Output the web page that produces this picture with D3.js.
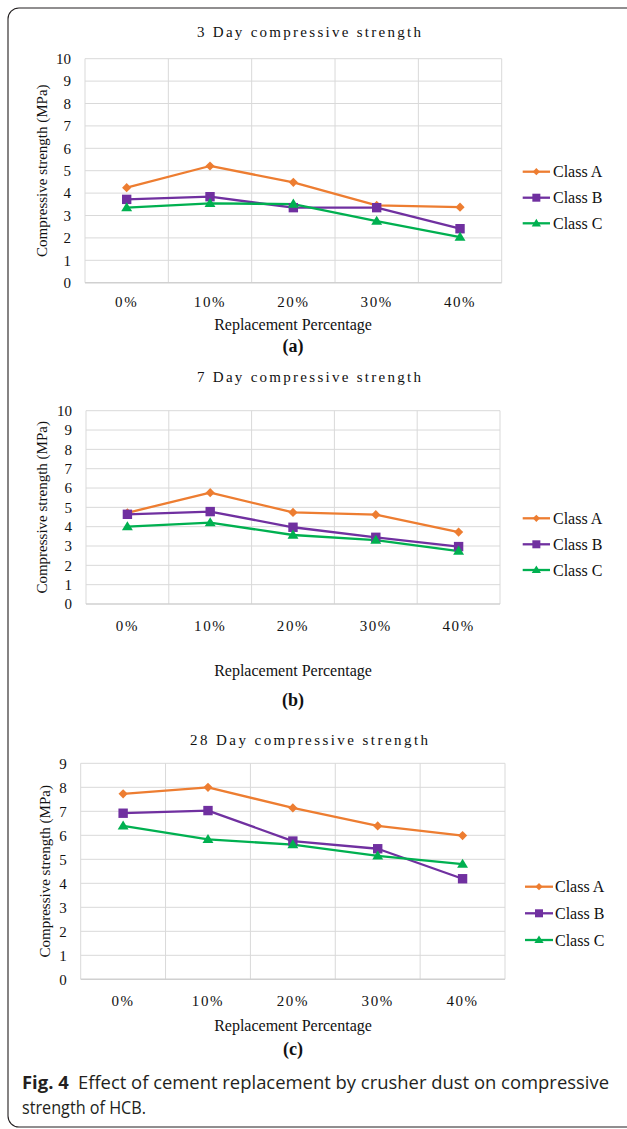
<!DOCTYPE html>
<html>
<head>
<meta charset="utf-8">
<script src="https://cdn.jsdelivr.net/npm/d3@7"></script>
<style>
  html, body { margin: 0; padding: 0; background: #fff; }
  svg { display: block; }
</style>
</head>
<body>
<svg id="chart" width="627" height="1129"></svg>
<script>
// ---------------- DATA ----------------
const categories = ["0%", "10%", "20%", "30%", "40%"];
const seriesNames = ["Class A", "Class B", "Class C"];

const day3ClassA = [4.24, 5.21, 4.48, 3.45, 3.37];
const day3ClassB = [3.72, 3.84, 3.35, 3.35, 2.41];
const day3ClassC = [3.35, 3.54, 3.51, 2.75, 2.03];

const day7ClassA = [4.72, 5.76, 4.74, 4.62, 3.72];
const day7ClassB = [4.64, 4.78, 3.97, 3.45, 2.97];
const day7ClassC = [4.00, 4.21, 3.57, 3.30, 2.74];

const day28ClassA = [7.73, 8.00, 7.14, 6.39, 5.99];
const day28ClassB = [6.92, 7.03, 5.76, 5.44, 4.19];
const day28ClassC = [6.39, 5.83, 5.61, 5.14, 4.80];

const ticks3 = [0, 1, 2, 3, 4, 5, 6, 7, 8, 9, 10];
const ticks7 = [0, 1, 2, 3, 4, 5, 6, 7, 8, 9, 10];
const ticks28 = [0, 1, 2, 3, 4, 5, 6, 7, 8, 9];

const panelTitles = ["3 Day compressive strength", "7 Day compressive strength", "28 Day compressive strength"];
const panelLetters = ["(a)", "(b)", "(c)"];
const xAxisTitle = "Replacement Percentage";
const yAxisTitle = "Compressive strength (MPa)";

// ---------------- STYLE / LAYOUT ----------------
const colors = ["#ED7D31", "#7030A0", "#00B050"];
const markers = ["diamond", "square", "triangle"];
const serif = "'Liberation Serif', 'Times New Roman', serif";

const layouts = [
  { x0: 85, x1: 501.7, y0: 58.7, y1: 282.7, titleY: 37, titleW: 224, tickY: 307, axisTitleY: 330, letterY: 352,
    legendLine: [522.7, 550], legendTextX: 553, legendY: [171.7, 197.7, 223.3], yLabelX: 42 },
  { x0: 86, x1: 500, y0: 410.7, y1: 604, titleY: 382, titleW: 224, tickY: 631, axisTitleY: 676, letterY: 706,
    legendLine: [522.7, 550], legendTextX: 553, legendY: [518.3, 544.3, 570], yLabelX: 42 },
  { x0: 80.7, x1: 505, y0: 763.3, y1: 979.3, titleY: 745, titleW: 238, tickY: 1006, axisTitleY: 1031, letterY: 1055,
    legendLine: [525, 553], legendTextX: 555, legendY: [886.7, 913.3, 940], yLabelX: 45 }
];

const panelsData = [
  { series: [day3ClassA, day3ClassB, day3ClassC], ticks: ticks3 },
  { series: [day7ClassA, day7ClassB, day7ClassC], ticks: ticks7 },
  { series: [day28ClassA, day28ClassB, day28ClassC], ticks: ticks28 }
];

const svg = d3.select("#chart");

// outer rounded frame
svg.append("rect")
  .attr("x", 8).attr("y", 8)
  .attr("width", 660).attr("height", 1119)
  .attr("rx", 11).attr("ry", 11)
  .attr("fill", "none").attr("stroke", "#231f20").attr("stroke-width", 1.1);

function markerPath(type, s) {
  if (type === "diamond") {
    return `M0,${-s}L${s},0L0,${s}L${-s},0Z`;
  } else if (type === "square") {
    return `M${-s},${-s}H${s}V${s}H${-s}Z`;
  } else {
    const h = s * 1.75;
    return `M0,${-h * 0.6}L${s * 1.05},${h * 0.4}L${-s * 1.05},${h * 0.4}Z`;
  }
}
const markerSize = { diamond: 4.6, square: 4.7, triangle: 5.2 };
const legendMarkerSize = { diamond: 3.6, square: 4.0, triangle: 4.4 };

panelsData.forEach((pd, i) => {
  const L = layouts[i];
  const g = svg.append("g");
  const yMax = d3.max(pd.ticks);

  const x = d3.scaleBand().domain(categories).range([L.x0, L.x1]).padding(0);
  const y = d3.scaleLinear().domain([0, yMax]).range([L.y1, L.y0]);

  // horizontal grid
  g.append("g")
    .selectAll("line")
    .data(pd.ticks.filter(t => t > 0))
    .join("line")
    .attr("x1", L.x0).attr("x2", L.x1)
    .attr("y1", d => y(d)).attr("y2", d => y(d))
    .attr("stroke", "#d9d9d9").attr("stroke-width", 1);

  // vertical grid at category boundaries
  const bounds = categories.map(c => x(c)).concat([L.x1]);
  g.append("g")
    .selectAll("line")
    .data(bounds)
    .join("line")
    .attr("x1", d => d).attr("x2", d => d)
    .attr("y1", L.y0).attr("y2", L.y1)
    .attr("stroke", "#d9d9d9").attr("stroke-width", 1);

  // x axis baseline
  g.append("line")
    .attr("x1", L.x0).attr("x2", L.x1)
    .attr("y1", y(0)).attr("y2", y(0))
    .attr("stroke", "#d0d0d0").attr("stroke-width", 1.6);

  // y tick labels
  g.append("g")
    .selectAll("text")
    .data(pd.ticks)
    .join("text")
    .attr("x", L.x0 - 14)
    .attr("y", d => y(d))
    .attr("dy", "0.35em")
    .attr("text-anchor", "end")
    .attr("font-family", serif).attr("font-size", 15).attr("fill", "#111")
    .text(d => d);

  // x tick labels
  g.append("g")
    .selectAll("text")
    .data(categories)
    .join("text")
    .attr("x", d => x(d) + x.bandwidth() / 2)
    .attr("y", L.tickY)
    .attr("text-anchor", "middle")
    .attr("font-family", serif).attr("font-size", 15).attr("letter-spacing", 1.6).attr("fill", "#111")
    .text(d => d);

  // titles
  g.append("text")
    .attr("x", 309).attr("y", L.titleY)
    .attr("text-anchor", "middle")
    .attr("font-family", serif).attr("font-size", 15).attr("fill", "#111")
    .attr("textLength", L.titleW).attr("lengthAdjust", "spacing")
    .text(panelTitles[i]);

  g.append("text")
    .attr("x", 293).attr("y", L.axisTitleY)
    .attr("text-anchor", "middle")
    .attr("font-family", serif).attr("font-size", 16).attr("fill", "#111")
    .text(xAxisTitle);

  g.append("text")
    .attr("x", 293).attr("y", L.letterY)
    .attr("text-anchor", "middle")
    .attr("font-family", serif).attr("font-size", 18).attr("font-weight", "bold").attr("fill", "#111")
    .text(panelLetters[i]);

  g.append("text")
    .attr("transform", `translate(${L.yLabelX},${(L.y0 + L.y1) / 2}) rotate(-90)`)
    .attr("text-anchor", "middle")
    .attr("dy", "0.35em")
    .attr("font-family", serif).attr("font-size", 15).attr("fill", "#111")
    .text(yAxisTitle);

  // series lines + markers
  const line = d3.line()
    .x((d, k) => x(categories[k]) + x.bandwidth() / 2)
    .y(d => y(d));

  pd.series.forEach((vals, s) => {
    g.append("path")
      .datum(vals)
      .attr("d", line)
      .attr("fill", "none")
      .attr("stroke", colors[s])
      .attr("stroke-width", 2.3)
      .attr("stroke-linejoin", "round");
  });
  pd.series.forEach((vals, s) => {
    g.append("g")
      .selectAll("path")
      .data(vals)
      .join("path")
      .attr("transform", (d, k) => `translate(${x(categories[k]) + x.bandwidth() / 2},${y(d)})`)
      .attr("d", markerPath(markers[s], markerSize[markers[s]]))
      .attr("fill", colors[s]);
  });

  // legend
  const lg = g.append("g");
  seriesNames.forEach((name, s) => {
    const ly = L.legendY[s];
    lg.append("line")
      .attr("x1", L.legendLine[0]).attr("x2", L.legendLine[1])
      .attr("y1", ly).attr("y2", ly)
      .attr("stroke", colors[s]).attr("stroke-width", 2.3);
    lg.append("path")
      .attr("transform", `translate(${(L.legendLine[0] + L.legendLine[1]) / 2},${ly})`)
      .attr("d", markerPath(markers[s], legendMarkerSize[markers[s]]))
      .attr("fill", colors[s]);
    lg.append("text")
      .attr("x", L.legendTextX).attr("y", ly)
      .attr("dy", "0.35em")
      .attr("font-family", serif).attr("font-size", 16).attr("fill", "#111")
      .text(name);
  });
});

// caption
const capFont = "'Liberation Sans Narrow', 'Open Sans', 'Noto Sans', sans-serif";
const cap1 = svg.append("text")
  .attr("x", 22).attr("y", 1089)
  .attr("font-family", capFont).attr("font-size", 17.5).attr("fill", "#231f20");
cap1.append("tspan").attr("font-weight", "bold").text("Fig. 4");
cap1.append("tspan").text("\u2002Effect of cement replacement by crusher dust on compressive");
cap1.attr("textLength", 587).attr("lengthAdjust", "spacingAndGlyphs");

svg.append("text")
  .attr("x", 22).attr("y", 1114)
  .attr("font-family", capFont).attr("font-size", 17.5).attr("fill", "#231f20")
  .attr("textLength", 124).attr("lengthAdjust", "spacingAndGlyphs")
  .text("strength of HCB.");
</script>
</body>
</html>
